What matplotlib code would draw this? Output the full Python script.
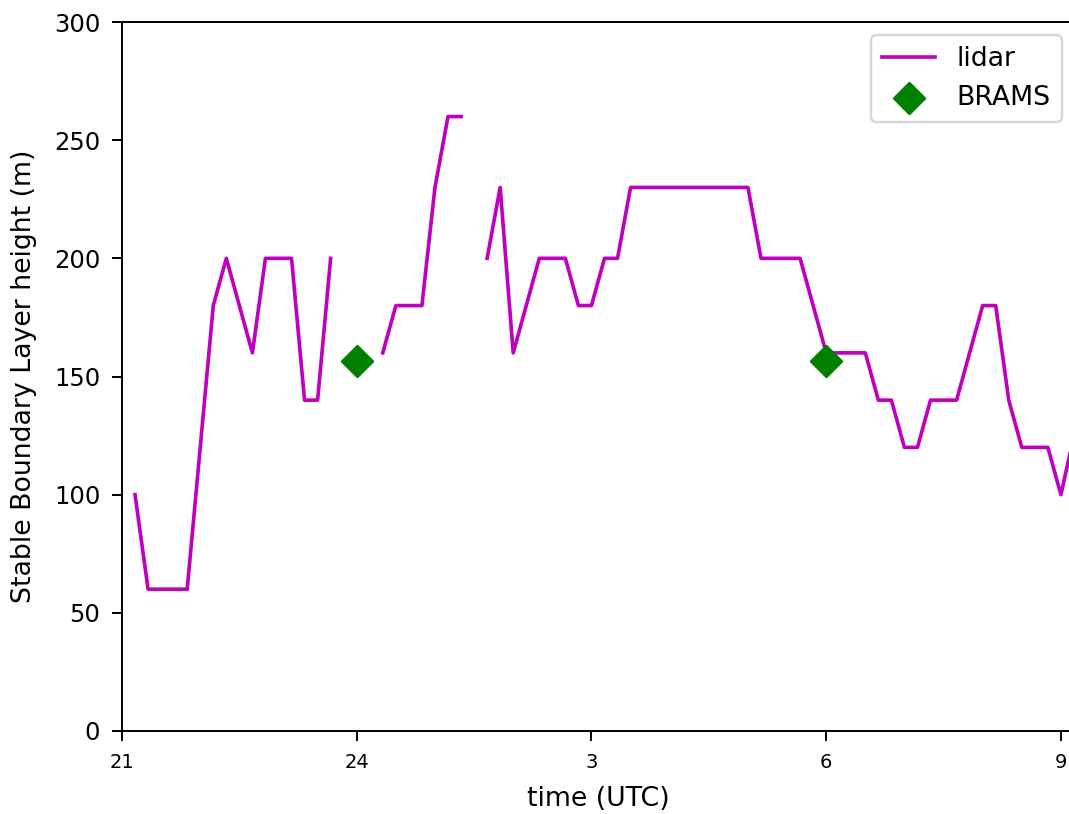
import numpy as np
import matplotlib
matplotlib.use("Agg")
import matplotlib.pyplot as plt

# lidar: stable boundary layer height every 10 min
lidar_times = [
    "21:10", "21:20", "21:30", "21:40", "21:50", "22:00", "22:10", "22:20", "22:30", "22:40",
    "22:50", "23:00", "23:10", "23:20", "23:30", "23:40", "23:50", "00:00", "00:10", "00:20",
    "00:30", "00:40", "00:50", "01:00", "01:10", "01:20", "01:30", "01:40", "01:50", "02:00",
    "02:10", "02:20", "02:30", "02:40", "02:50", "03:00", "03:10", "03:20", "03:30", "03:40",
    "03:50", "04:00", "04:10", "04:20", "04:30", "04:40", "04:50", "05:00", "05:10", "05:20",
    "05:30", "05:40", "05:50", "06:00", "06:10", "06:20", "06:30", "06:40", "06:50", "07:00",
    "07:10", "07:20", "07:30", "07:40", "07:50", "08:00", "08:10", "08:20", "08:30", "08:40",
    "08:50", "09:00", "09:10",
]
nan = np.nan
lidar_height = [
    100, 60, 60, 60, 60, 120, 180, 200, 180, 160,
    200, 200, 200, 140, 140, 200, nan, nan, nan, 160,
    180, 180, 180, 230, 260, 260, nan, 200, 230, 160,
    180, 200, 200, 200, 180, 180, 200, 200, 230, 230,
    230, 230, 230, 230, 230, 230, 230, 230, 200, 200,
    200, 200, 180, 160, 160, 160, 160, 140, 140, 120,
    120, 140, 140, 140, 160, 180, 180, 140, 120, 120,
    120, 100, 125,
]

brams_times = ["00:00", "06:00"]
brams_height = [156.6, 156.6]

xtick_labels = ["21", "24", "3", "6", "9"]
ytick_values = [0, 50, 100, 150, 200, 250, 300]


def to_hours(t, start=21):
    h, m = map(int, t.split(":"))
    return ((h - start) % 24) + m / 60.0


lx = np.array([to_hours(t) for t in lidar_times])
bx = np.array([to_hours(t) for t in brams_times])

W, H, DPI = 1069, 814, 175
fig = plt.figure(figsize=(W / DPI, H / DPI), dpi=DPI)
left = 122 / W
bottom = (H - 731) / H
top = (H - 22) / H
right = 1075 / W
ax = fig.add_axes([left, bottom, right - left, top - bottom])

ax.plot(lx, lidar_height, color="m", lw=1.5, label="lidar")
ax.scatter(bx, brams_height, marker="D", s=81, color="g", label="BRAMS", zorder=3)

ax.set_xlim(0, 12.18)
ax.set_ylim(0, 300)
ax.set_xticks([0, 3, 6, 9, 12])
ax.set_xticklabels(xtick_labels, fontsize=8)
ax.set_yticks(ytick_values)
ax.tick_params(axis="both", length=4.1, pad=4.8)
ax.tick_params(axis="y", labelsize=10)
ax.set_xlabel("time (UTC)", fontsize=11, labelpad=6)
ax.set_ylabel("Stable Boundary Layer height (m)", fontsize=11, labelpad=7)
ax.legend(loc="upper right", fontsize=11)

fig.savefig("out.png", dpi=DPI)
